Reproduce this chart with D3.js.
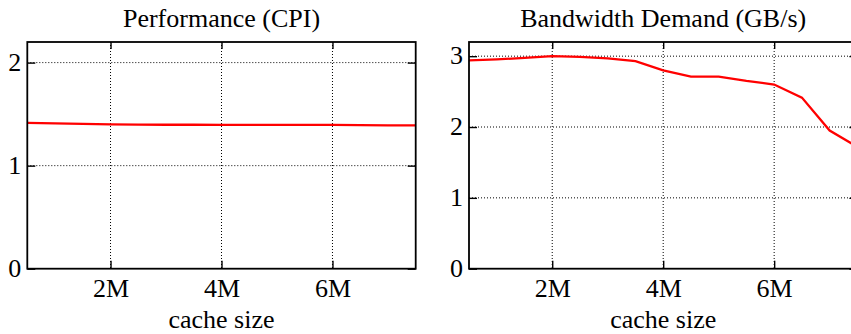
<!DOCTYPE html>
<meta charset="utf-8">
<script src="https://d3js.org/d3.v7.min.js"></script>
<style>
  body { margin: 0; background: #fff; }
</style>
<div id="chart"></div>
<script>
// Cache sizes (MB) on the x axis
const cacheSizes = [0.5, 1, 1.5, 2, 2.5, 3, 3.5, 4, 4.5, 5, 5.5, 6, 6.5, 7, 7.5];
const xTicks = [2, 4, 6];
const xTickLabels = ["2M", "4M", "6M"];

// Series
const cpiValues = [1.415, 1.41, 1.405, 1.40, 1.398, 1.397, 1.397, 1.396, 1.396, 1.395, 1.395, 1.395, 1.394, 1.39, 1.39];
const bwValues  = [2.94, 2.955, 2.975, 3.00, 2.99, 2.97, 2.93, 2.80, 2.71, 2.71, 2.65, 2.60, 2.415, 1.95, 1.72];

const panelTitles = ["Performance (CPI)", "Bandwidth Demand (GB/s)"];
const yMaxes = [2.2, 3.2];
const yTicksList = [[0, 1, 2], [0, 1, 2, 3]];
const seriesList = [cpiValues, bwValues];
const xLabel = "cache size";

const W = 851, H = 334;
const panelLeft = [27.3, 469];
const panelW = 388.4, plotTop = 42, plotBottom = 268.7;
const serif = "'Liberation Serif', 'Times New Roman', Times, serif";

const svg = d3.select("#chart")
  .append("svg")
  .attr("width", W)
  .attr("height", H)
  .attr("font-family", serif);

svg.append("rect").attr("width", W).attr("height", H).attr("fill", "#fff");

panelTitles.forEach((title, p) => {
  const g = svg.append("g")
    .attr("transform", `translate(${panelLeft[p]}, ${plotTop})`);
  const w = panelW, h = plotBottom - plotTop;

  const x = d3.scaleLinear().domain([0.5, 7.5]).range([0, w]);
  const y = d3.scaleLinear().domain([0, yMaxes[p]]).range([h, 0]);
  const yTicks = yTicksList[p];

  // dotted grid
  g.append("g")
    .selectAll("line")
    .data(xTicks)
    .join("line")
      .attr("x1", d => x(d)).attr("x2", d => x(d))
      .attr("y1", 0).attr("y2", h)
      .attr("stroke", "#000").attr("stroke-width", 1)
      .attr("stroke-dasharray", "1,2");
  g.append("g")
    .selectAll("line")
    .data(yTicks.filter(d => d > 0))
    .join("line")
      .attr("x1", 0).attr("x2", w)
      .attr("y1", d => y(d)).attr("y2", d => y(d))
      .attr("stroke", "#000").attr("stroke-width", 1)
      .attr("stroke-dasharray", "1,2");

  // axes with inward ticks
  const styleAxis = sel => {
    sel.attr("font-family", serif).attr("font-size", 26);
    sel.select(".domain").remove();
    sel.selectAll(".tick line").attr("stroke", "#000").attr("stroke-width", 1.4);
    sel.selectAll(".tick text").attr("fill", "#000");
  };

  g.append("g")
    .attr("transform", `translate(0, ${h})`)
    .call(d3.axisBottom(x).tickValues(xTicks)
      .tickFormat((d, i) => xTickLabels[i])
      .tickSizeInner(-8).tickSizeOuter(0).tickPadding(10))
    .call(styleAxis);

  g.append("g")
    .call(d3.axisTop(x).tickValues(xTicks).tickFormat("")
      .tickSizeInner(-7).tickSizeOuter(0))
    .call(styleAxis);

  g.append("g")
    .call(d3.axisLeft(y).tickValues(yTicks).tickFormat(d3.format("d"))
      .tickSizeInner(-8).tickSizeOuter(0).tickPadding(6))
    .call(styleAxis)
    .call(s => s.selectAll(".tick text").attr("dy", "0.3em"));

  g.append("g")
    .attr("transform", `translate(${w}, 0)`)
    .call(d3.axisRight(y).tickValues(yTicks).tickFormat("")
      .tickSizeInner(-8).tickSizeOuter(0))
    .call(styleAxis);

  // series line
  const line = d3.line()
    .x((d, i) => x(cacheSizes[i]))
    .y(d => y(d));
  g.append("path")
    .datum(seriesList[p])
    .attr("d", line)
    .attr("fill", "none")
    .attr("stroke", "#ff0000")
    .attr("stroke-width", 2.3);

  // frame
  g.append("rect")
    .attr("width", w).attr("height", h)
    .attr("fill", "none")
    .attr("stroke", "#000")
    .attr("stroke-width", 1.8);

  // titles
  g.append("text")
    .attr("x", w / 2).attr("y", 27 - plotTop)
    .attr("text-anchor", "middle")
    .attr("font-size", 26)
    .text(title);

  g.append("text")
    .attr("x", w / 2).attr("y", 328 - plotTop)
    .attr("text-anchor", "middle")
    .attr("font-size", 26)
    .text(xLabel);
});
</script>
</html>
